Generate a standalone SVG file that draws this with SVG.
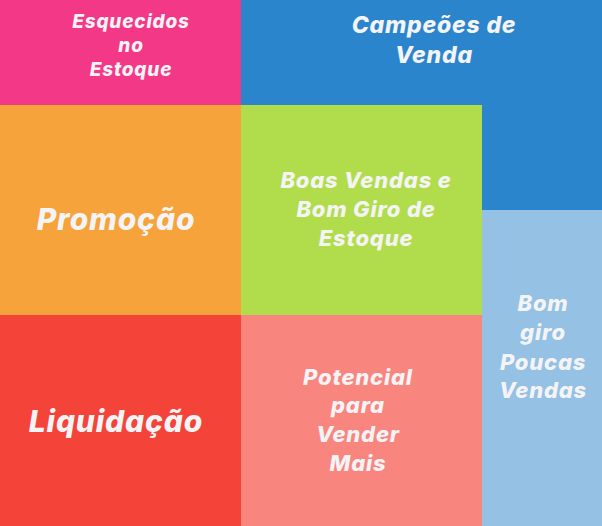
<svg xmlns="http://www.w3.org/2000/svg" width="602" height="526" viewBox="0 0 602 526">
<style>
text{font-family:Inter,"Open Sans","Liberation Sans",sans-serif;font-weight:800;font-style:italic;fill:#F4F4F6;text-anchor:middle;letter-spacing:0.8px}
.s18{font-size:19px}.s22{font-size:23px}.s21{font-size:22px}.s30{font-size:30px}
</style>
<g id="campeoes"><rect x="241" y="0" width="361" height="210" fill="#2A85CD"/>
<text class="s22" x="434" y="33">Campeões de</text><text class="s22" x="434" y="63">Venda</text></g>
<g id="esquecidos"><rect x="0" y="0" width="241" height="105" fill="#F43888"/>
<text class="s18" x="131" y="28">Esquecidos</text><text class="s18" x="131" y="52">no</text><text class="s18" x="131" y="76">Estoque</text></g>
<g id="promocao"><rect x="0" y="105" width="241" height="210" fill="#F5A33A"/>
<text class="s30" x="116" y="230">Promoção</text></g>
<g id="boas"><rect x="241" y="105" width="241" height="210" fill="#B1DD4C"/>
<text class="s21" x="366" y="188">Boas Vendas e</text><text class="s21" x="366" y="217">Bom Giro de</text><text class="s21" x="366" y="246">Estoque</text></g>
<g id="bomgiro"><rect x="482" y="210" width="120" height="316" fill="#94C1E4"/>
<text class="s21" x="543" y="311">Bom</text><text class="s21" x="543" y="340">giro</text><text class="s21" x="543" y="370">Poucas</text><text class="s21" x="543" y="398">Vendas</text></g>
<g id="liquidacao"><rect x="0" y="315" width="241" height="211" fill="#F44339"/>
<text class="s30" x="116" y="432">Liquidação</text></g>
<g id="potencial"><rect x="241" y="315" width="241" height="211" fill="#F8867F"/>
<text class="s21" x="358" y="385">Potencial</text><text class="s21" x="358" y="413">para</text><text class="s21" x="358" y="442">Vender</text><text class="s21" x="358" y="471">Mais</text></g>
<g id="connectors"/>
</svg>
